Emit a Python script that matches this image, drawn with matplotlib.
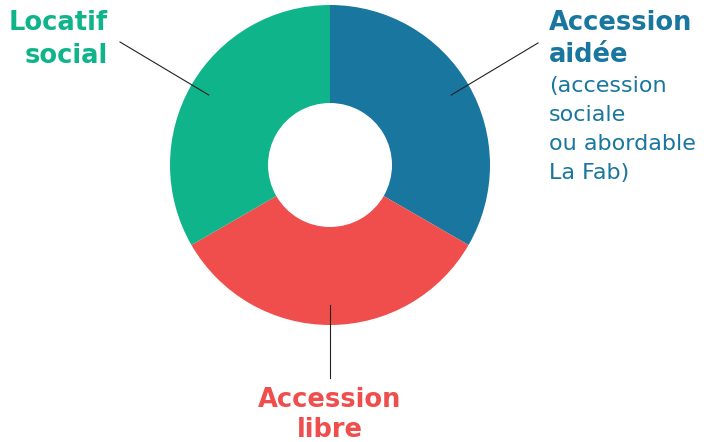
import numpy as np
import matplotlib.pyplot as plt

# three housing types, equal shares
labels = ['Accession aidée', 'Accession libre', 'Locatif social']
shares = [1, 1, 1]
colors = ['#18769f', '#ef4e4d', '#10b48a']

W, H = 704, 442
cx, cy, r_out, r_in = 330, H - 165, 160, 62

fig = plt.figure(figsize=(W / 100, H / 100), dpi=100)
ax = fig.add_axes([0, 0, 1, 1])

wedges, _ = ax.pie(shares, colors=colors, startangle=90, counterclock=False,
                   center=(cx, cy), radius=r_out,
                   wedgeprops=dict(width=r_out - r_in, linewidth=0))

# pie() resets the limits, so set the pixel frame afterwards
ax.set_xlim(0, W)
ax.set_ylim(0, H)
ax.set_aspect('equal')
ax.axis('off')

# leader lines from the middle of each wedge out to its label
ends = [(538, H - 43), (330, H - 378), (120, H - 42)]
for w, (ex, ey) in zip(wedges, ends):
    a = np.deg2rad((w.theta1 + w.theta2) / 2)
    sx, sy = cx + 140 * np.cos(a), cy + 140 * np.sin(a)
    ax.plot([sx, ex], [sy, ey], color='#222222', lw=0.8)

bold = dict(family='DejaVu Sans', fontweight='bold', fontsize=18.5, va='baseline')
ax.text(108, H - 30, 'Locatif', color=colors[2], ha='right', **bold)
ax.text(108, H - 63, 'social', color=colors[2], ha='right', **bold)

ax.text(549, H - 30, 'Accession', color=colors[0], ha='left', **bold)
ax.text(549, H - 62, 'aidée', color=colors[0], ha='left', **bold)
sub = ['(accession', 'sociale', 'ou abordable', 'La Fab)']
for i, s in enumerate(sub):
    ax.text(549, H - (92 + 29 * i), s, color=colors[0], ha='left',
            family='DejaVu Sans', fontsize=16, va='baseline')

ax.text(330, H - 407, 'Accession', color=colors[1], ha='center', **bold)
ax.text(330, H - 437, 'libre', color=colors[1], ha='center', **bold)

fig.savefig('out.png', dpi=100)
